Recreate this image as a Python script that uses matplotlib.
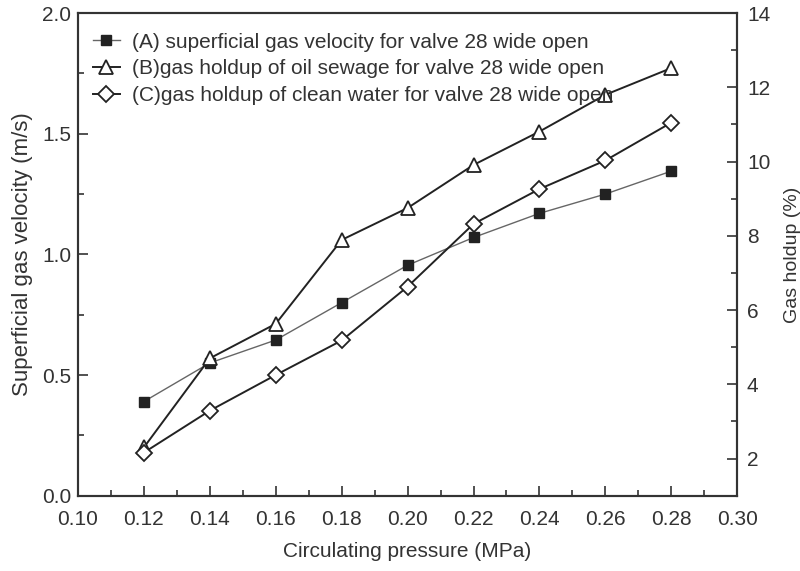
import matplotlib
matplotlib.use("Agg")
import matplotlib.pyplot as plt
from matplotlib.ticker import MultipleLocator

plt.rcParams.update({"font.family": ["Liberation Sans", "DejaVu Sans"],
                     "font.size": 15, "text.color": "#333333",
                     "axes.labelcolor": "#333333",
                     "xtick.color": "#333333", "ytick.color": "#333333"})

pressure = [0.12, 0.14, 0.16, 0.18, 0.20, 0.22, 0.24, 0.26, 0.28]
velocity = [0.39, 0.55, 0.645, 0.80, 0.955, 1.07, 1.17, 1.25, 1.345]
holdup_oil = [2.3, 4.7, 5.63, 7.89, 8.75, 9.91, 10.81, 11.80, 12.52]
holdup_water = [2.16, 3.29, 4.25, 5.18, 6.63, 8.32, 9.26, 10.03, 11.05]

labels = ["(A) superficial gas velocity for valve 28 wide open",
          "(B)gas holdup of oil sewage for valve 28 wide open",
          "(C)gas holdup of clean water for valve 28 wide open"]

fig = plt.figure(figsize=(8, 5.71), dpi=100)
ax = fig.add_axes([0.0975, 0.132, 0.824, 0.845])
ax2 = ax.twinx()

la, = ax.plot(pressure, velocity, "-s", color="#666666", lw=1.0, ms=7.5,
              mfc="#222222", mec="#222222", label=labels[0])
lb, = ax2.plot(pressure, holdup_oil, "-^", color="#222222", lw=1.4, ms=9.5,
               mfc="white", mec="#222222", mew=1.3, label=labels[1])
lc, = ax2.plot(pressure, holdup_water, "-D", color="#222222", lw=1.4, ms=8,
               mfc="white", mec="#222222", mew=1.3, label=labels[2])

ax.set_xlim(0.10, 0.30)
ax.set_ylim(0, 2.0)
ax2.set_ylim(1, 14)
ax.xaxis.set_major_locator(MultipleLocator(0.02))
ax.xaxis.set_minor_locator(MultipleLocator(0.01))
ax.yaxis.set_major_locator(MultipleLocator(0.5))
ax.yaxis.set_minor_locator(MultipleLocator(0.25))
ax2.set_yticks([2, 4, 6, 8, 10, 12, 14])
ax2.yaxis.set_minor_locator(MultipleLocator(1))
ax.xaxis.set_major_formatter(plt.FormatStrFormatter("%.2f"))
ax.yaxis.set_major_formatter(plt.FormatStrFormatter("%.1f"))

for a in (ax, ax2):
    a.tick_params(which="major", direction="in", length=7, width=1.2)
    a.tick_params(which="minor", direction="in", length=4, width=1.2)
    for s in a.spines.values():
        s.set_color("#333333")
        s.set_linewidth(1.5)
ax.tick_params(axis="x", which="major", pad=10)
ax.tick_params(axis="y", which="major", pad=5)
ax2.tick_params(axis="y", which="major", pad=7)

ax.set_xlabel("Circulating pressure (MPa)", labelpad=10)
ax.set_ylabel("Superficial gas velocity (m/s)", fontsize=16, labelpad=6)
ax2.set_ylabel("Gas holdup (%)", fontsize=14, labelpad=10)

ax2.legend([la, lb, lc], labels, loc="upper left", frameon=False,
           handlelength=1.3, handletextpad=0.6, labelspacing=0.38,
           borderaxespad=0.3, fontsize=15, bbox_to_anchor=(0.0, 0.99))

fig.savefig("out.png", dpi=100)
